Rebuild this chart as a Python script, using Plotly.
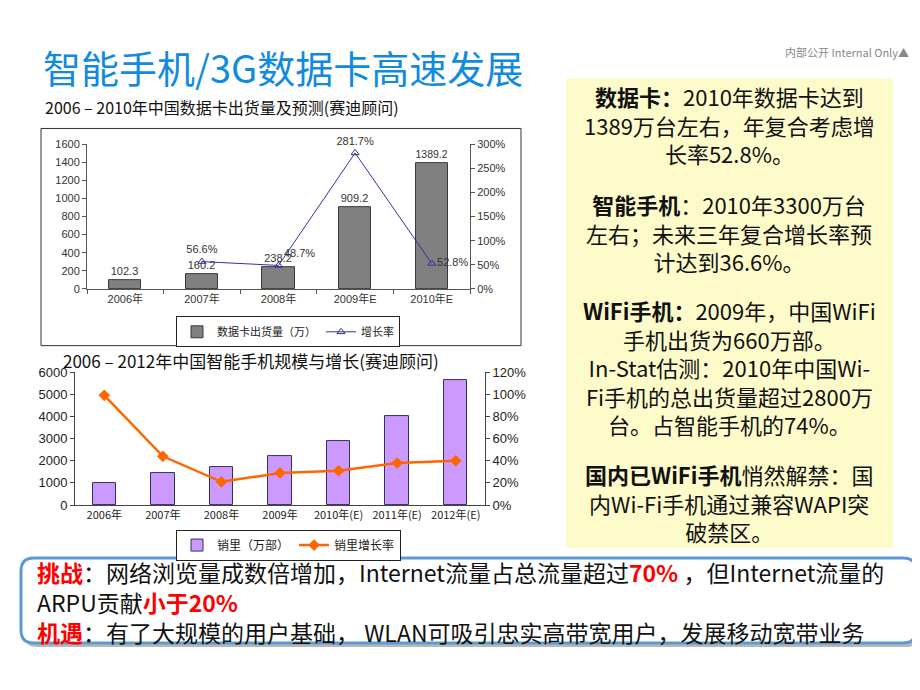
import plotly.graph_objects as go

W, H = 920, 690

# ---------------- data ----------------
cats1 = ["2006年", "2007年", "2008年", "2009年E", "2010年E"]
cards = [102.3, 160.2, 238.2, 909.2, 1389.2]
growth1 = [None, 56.6, 48.7, 281.7, 52.8]
y1_ticks = [0, 200, 400, 600, 800, 1000, 1200, 1400, 1600]
y2_ticks = [0, 50, 100, 150, 200, 250, 300]

cats2 = ["2006年", "2007年", "2008年", "2009年", "2010年(E)", "2011年(E)", "2012年(E)"]
phones = [1000, 1440, 1720, 2220, 2910, 4010, 5660]
growth2 = [99, 44, 21, 29, 31, 38, 40]
y3_ticks = [0, 1000, 2000, 3000, 4000, 5000, 6000]
y4_ticks = [0, 20, 40, 60, 80, 100, 120]

title_text = "智能手机/3G数据卡高速发展"
corner_text = "内部公开 Internal Only▲"
sub1 = "2006 – 2010年中国数据卡出货量及预测(赛迪顾问)"
sub2 = "2006 – 2012年中国智能手机规模与增长(赛迪顾问)"

side_paragraphs = [
    ["<b>数据卡：</b>2010年数据卡达到",
     "1389万台左右，年复合考虑增",
     "长率52.8%。"],
    ["<b>智能手机</b>：2010年3300万台",
     "左右；未来三年复合增长率预",
     "计达到36.6%。"],
    ["<b>WiFi手机：</b>2009年，中国WiFi",
     "手机出货为660万部。",
     "In-Stat估测：2010年中国Wi-",
     "Fi手机的总出货量超过2800万",
     "台。占智能手机的74%。"],
    ["<b>国内已WiFi手机</b>悄然解禁：国",
     "内Wi-Fi手机通过兼容WAPI突",
     "破禁区。"],
]
side_centers = [112, 222, 360, 498]

RED = "#FF0000"
bottom_lines = [
    f"<b><span style='color:{RED}'>挑战</span></b>：网络浏览量成数倍增加，Internet流量占总流量超过<b><span style='color:{RED}'>70%</span></b> ，但Internet流量的",
    f"ARPU贡献<b><span style='color:{RED}'>小于20%</span></b>",
    f"<b><span style='color:{RED}'>机遇</span></b>：有了大规模的用户基础， WLAN可吸引忠实高带宽用户，发展移动宽带业务",
]

# ---------------- helpers ----------------
def px(x):
    return x / W

def py(y):
    return 1 - y / H

CJK = "Noto Sans CJK SC"
SANS = "Liberation Sans, Arial, Noto Sans CJK SC"

fig = go.Figure()

# chart 1
fig.add_trace(go.Bar(
    x=cats1, y=cards, xaxis="x", yaxis="y", name="数据卡出货量（万）",
    marker=dict(color="#808080", line=dict(color="#3a3a3a", width=1)),
    width=0.42, text=[f"{v:.1f}" for v in cards], textposition="outside",
    textfont=dict(size=11, color="#333333", family=SANS), cliponaxis=False,
    legend="legend",
))
fig.add_trace(go.Scatter(
    x=cats1, y=growth1, xaxis="x", yaxis="y2", name="增长率",
    mode="lines+markers+text",
    line=dict(color="#333399", width=1),
    marker=dict(symbol="triangle-up-open", size=7, color="#333399", line=dict(width=1)),
    text=["" if v is None else f"{v:.1f}%" for v in growth1],
    textposition=["top center", "top center", "top right", "top center", "middle right"],
    textfont=dict(size=11, color="#333333", family=SANS), cliponaxis=False,
    legend="legend",
))

# chart 2
fig.add_trace(go.Bar(
    x=cats2, y=phones, xaxis="x3", yaxis="y3", name="销里（万部）",
    marker=dict(color="#CC99FF", line=dict(color="#333355", width=1)),
    width=0.4, legend="legend2",
))
fig.add_trace(go.Scatter(
    x=cats2, y=growth2, xaxis="x3", yaxis="y4", name="销里增长率",
    mode="lines+markers",
    line=dict(color="#FF6600", width=2.5),
    marker=dict(symbol="diamond", size=9, color="#FF6600"),
    cliponaxis=False, legend="legend2",
))

axis_font1 = dict(size=11, color="#333333", family=SANS)
axis_font2 = dict(size=13, color="#222222", family=SANS)

layout = dict(
    width=W, height=H, autosize=False,
    margin=dict(l=0, r=0, t=0, b=0),
    paper_bgcolor="white", plot_bgcolor="rgba(0,0,0,0)",
    showlegend=True, bargap=0,
    font=dict(family=CJK),
    xaxis=dict(domain=[px(79), px(462)], anchor="y", type="category",
               showline=True, linecolor="#555555", ticks="outside", tickson="boundaries",
               ticklen=4, tickcolor="#555555", tickfont=axis_font1, showgrid=False,
               fixedrange=True),
    yaxis=dict(domain=[py(280), py(132)], anchor="x", range=[0, 1600],
               tickvals=y1_ticks, showline=True, linecolor="#555555", ticks="outside",
               ticklen=4, tickcolor="#555555", tickfont=axis_font1, showgrid=False,
               zeroline=False),
    yaxis2=dict(overlaying="y", side="right", anchor="x", range=[0, 300],
                tickvals=y2_ticks, ticktext=[f"{v}%" for v in y2_ticks],
                showline=True, linecolor="#555555",
                ticks="outside", ticklen=4, tickcolor="#555555", tickfont=axis_font1,
                showgrid=False, zeroline=False),
    xaxis3=dict(domain=[px(67), px(477)], anchor="y3", type="category",
                showline=True, linecolor="#444444", ticks="",
                tickfont=dict(size=11, color="#222222", family=CJK),
                showgrid=False),
    yaxis3=dict(domain=[py(501), py(365)], anchor="x3", range=[0, 6000],
                tickvals=y3_ticks, showline=True, linecolor="#444444", ticks="outside",
                ticklen=4, tickcolor="#444444", tickfont=axis_font2, showgrid=False,
                zeroline=False),
    yaxis4=dict(overlaying="y3", side="right", anchor="x3", range=[0, 120],
                tickvals=y4_ticks, ticktext=[f"{v}%" for v in y4_ticks],
                showline=True, linecolor="#444444",
                ticks="outside", ticklen=4, tickcolor="#444444", tickfont=axis_font2,
                showgrid=False, zeroline=False),
    legend=dict(orientation="h", x=px(168), y=py(308), xanchor="left", yanchor="top",
                bordercolor="#222222", borderwidth=1, bgcolor="white",
                font=dict(size=11, family=CJK, color="#222222"),
                itemwidth=30, tracegroupgap=0),
    legend2=dict(orientation="h", x=px(168), y=py(526), xanchor="left", yanchor="top",
                 bordercolor="#222222", borderwidth=1, bgcolor="white",
                 font=dict(size=12, family=CJK, color="#222222"),
                 itemwidth=30, tracegroupgap=0),
)
fig.update_layout(**layout)

shapes = []
# yellow side box
shapes.append(dict(type="rect", xref="paper", yref="paper", x0=px(558), x1=px(885),
                   y0=py(545), y1=py(65), fillcolor="#FEFBCB", line=dict(width=0), layer="below"))
# chart1 frame
shapes.append(dict(type="rect", xref="paper", yref="paper", x0=px(33), x1=px(513),
                   y0=py(338), y1=py(116), fillcolor="rgba(0,0,0,0)",
                   line=dict(color="#333333", width=1), layer="below"))

def rounded(x0, y0, x1, y1, r):
    return (f"M {px(x0 + r)},{py(y0)} L {px(x1 - r)},{py(y0)} "
            f"Q {px(x1)},{py(y0)} {px(x1)},{py(y0 + r)} "
            f"L {px(x1)},{py(y1 - r)} Q {px(x1)},{py(y1)} {px(x1 - r)},{py(y1)} "
            f"L {px(x0 + r)},{py(y1)} Q {px(x0)},{py(y1)} {px(x0)},{py(y1 - r)} "
            f"L {px(x0)},{py(y0 + r)} Q {px(x0)},{py(y0)} {px(x0 + r)},{py(y0)} Z")

# bottom box shadow + box
shapes.append(dict(type="path", xref="paper", yref="paper", path=rounded(16, 558, 912, 646, 13),
                   fillcolor="#B8B8B8", line=dict(width=0), layer="above"))
shapes.append(dict(type="path", xref="paper", yref="paper", path=rounded(13, 555, 908, 642, 13),
                   fillcolor="white", line=dict(color="#5B9BD5", width=3), layer="above"))
fig.update_layout(shapes=shapes)

ann = []
ann.append(dict(text=title_text, x=px(33), y=py(53), xref="paper", yref="paper",
                xanchor="left", yanchor="middle", showarrow=False,
                font=dict(size=38, color="#118BE0", family=CJK)))
ann.append(dict(text=corner_text, x=px(903), y=py(38), xref="paper", yref="paper",
                xanchor="right", yanchor="middle", showarrow=False,
                font=dict(size=11, color="#888888", family=CJK)))
ann.append(dict(text=sub1, x=px(35), y=py(94), xref="paper", yref="paper",
                xanchor="left", yanchor="middle", showarrow=False,
                font=dict(size=16, color="#111111", family=CJK)))
ann.append(dict(text=sub2, x=px(53), y=py(353), xref="paper", yref="paper",
                xanchor="left", yanchor="middle", showarrow=False,
                font=dict(size=17, color="#111111", family=CJK)))

for para, cy in zip(side_paragraphs, side_centers):
    ann.append(dict(text="<br>".join(para), x=px(721), y=py(cy), xref="paper", yref="paper",
                    xanchor="center", yanchor="middle", align="center", showarrow=False,
                    font=dict(size=22, color="#111111", family=CJK)))

ann.append(dict(text="<br>".join(bottom_lines), x=px(27), y=py(600), xref="paper", yref="paper",
                xanchor="left", yanchor="middle", align="left", showarrow=False,
                font=dict(size=23, color="#111111", family=CJK)))
fig.update_layout(annotations=ann)

fig.write_html("out.html")
